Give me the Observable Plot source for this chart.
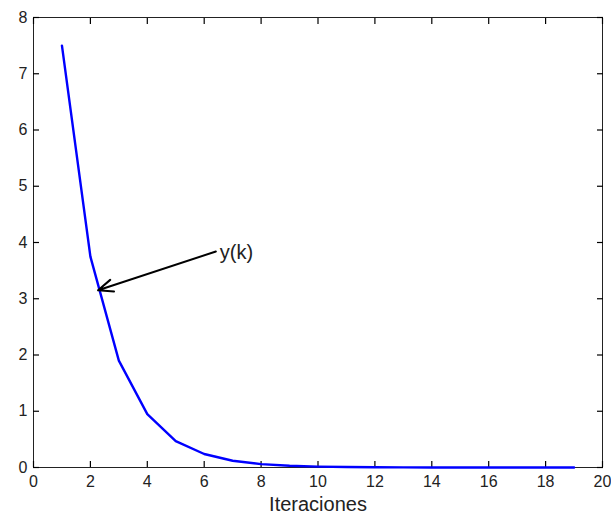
<!DOCTYPE html>
<html>
<head>
<meta charset="utf-8">
<script src="https://cdn.jsdelivr.net/npm/d3@7"></script>
<script src="https://cdn.jsdelivr.net/npm/@observablehq/plot@0.6"></script>
<style>
  html, body { margin: 0; padding: 0; background: #fff; }
</style>
</head>
<body>
<div id="chart"></div>
<script>
const iterations = [1, 2, 3, 4, 5, 6, 7, 8, 9, 10, 11, 12, 13, 14, 15, 16, 17, 18, 19];
const yValues = [7.5, 3.75, 1.9, 0.95, 0.47, 0.24, 0.12, 0.06, 0.03, 0.015, 0.008, 0.004, 0.002, 0.001, 0.0005, 0.0003, 0.0002, 0.0001, 0.0001];
const xTicks = [0, 2, 4, 6, 8, 10, 12, 14, 16, 18, 20];
const yTicks = [0, 1, 2, 3, 4, 5, 6, 7, 8];
const xLabel = "Iteraciones";
const annotationText = "y(k)";
const arrowFrom = [6.41, 3.84];
const arrowTo = [2.27, 3.15];
const textPos = [6.55, 3.82];

const data = iterations.map((k, i) => ({k, y: yValues[i]}));
const ink = "#222";
const font = "'Liberation Sans', Arial, Helvetica, sans-serif";
const fmt = d3.format("d");
const blank = () => "";
const tickLen = 6;

const plot = Plot.plot({
  width: 611,
  height: 521,
  marginLeft: 33,
  marginRight: 9,
  marginTop: 17,
  marginBottom: 54,
  style: {fontFamily: font, fontSize: "16px", color: ink, background: "#fff"},
  x: {domain: [0, 20]},
  y: {domain: [0, 8]},
  marks: [
    Plot.frame({stroke: ink, strokeWidth: 1}),
    // tick labels
    Plot.axisX(xTicks, {anchor: "bottom", tickSize: 0, tickPadding: 8, tickFormat: fmt, fill: ink, label: null, fontSize: 16}),
    Plot.axisY(yTicks, {anchor: "left", tickSize: 0, tickPadding: 6, tickFormat: fmt, fill: ink, label: null, fontSize: 16}),
    // inward tick marks on all four sides (outward ticks shifted inside)
    Plot.axisX(xTicks, {anchor: "bottom", tickSize: tickLen, dy: -tickLen, tickFormat: blank, stroke: "#000", strokeWidth: 1.2, label: null}),
    Plot.axisX(xTicks, {anchor: "top", tickSize: tickLen, dy: tickLen, tickFormat: blank, stroke: "#000", strokeWidth: 1.2, label: null}),
    Plot.axisY(yTicks, {anchor: "left", tickSize: tickLen, dx: tickLen, tickFormat: blank, stroke: "#000", strokeWidth: 1.2, label: null}),
    Plot.axisY(yTicks, {anchor: "right", tickSize: tickLen, dx: -tickLen, tickFormat: blank, stroke: "#000", strokeWidth: 1.2, label: null}),
    Plot.line(data, {x: "k", y: "y", stroke: "#0000ff", strokeWidth: 2.4}),
    Plot.arrow([{x1: arrowFrom[0], y1: arrowFrom[1], x2: arrowTo[0], y2: arrowTo[1]}], {
      x1: "x1", y1: "y1", x2: "x2", y2: "y2", stroke: "#000", strokeWidth: 2, headLength: 12, headAngle: 45
    }),
    Plot.text([annotationText], {x: textPos[0], y: textPos[1], text: d => d, textAnchor: "start", fontSize: 20, fill: ink}),
    Plot.text([xLabel], {frameAnchor: "bottom", dy: 43, text: d => d, fontSize: 20, fill: ink})
  ]
});
document.getElementById("chart").appendChild(plot);
</script>
</body>
</html>
